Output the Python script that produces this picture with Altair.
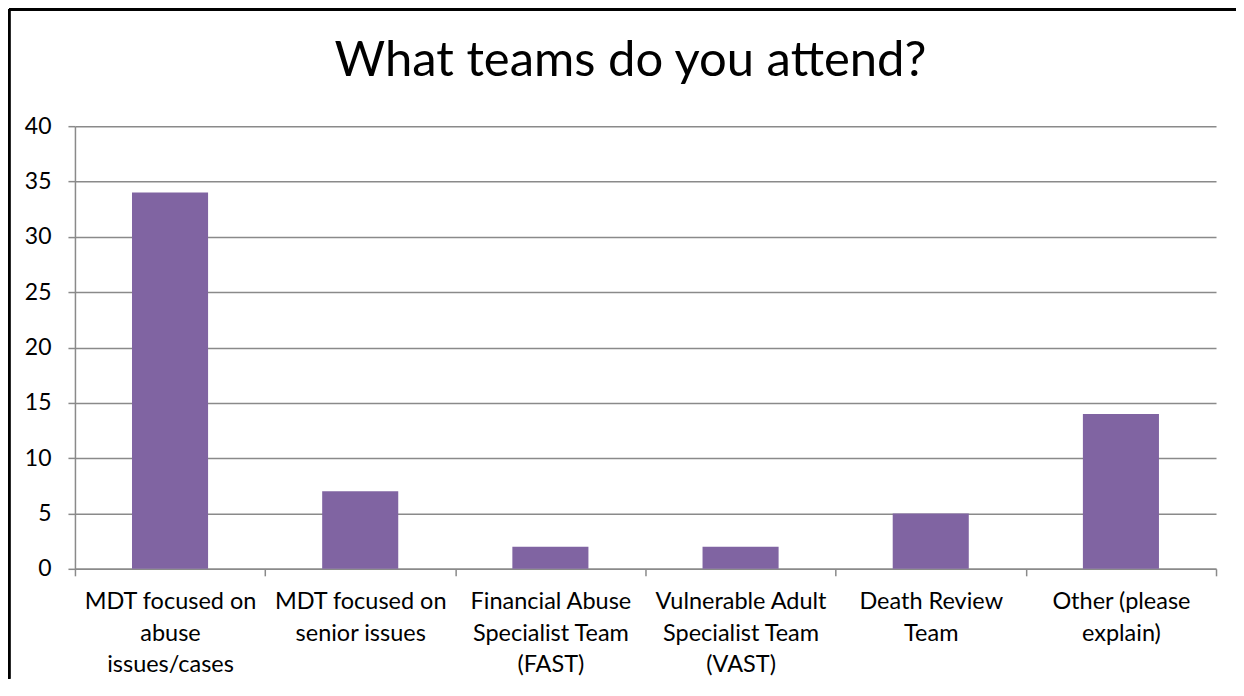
import altair as alt
import pandas as pd

categories = [
    "MDT focused on\nabuse\nissues/cases",
    "MDT  focused on\nsenior issues",
    "Financial Abuse\nSpecialist Team\n(FAST)",
    "Vulnerable Adult\nSpecialist Team\n(VAST)",
    "Death Review\nTeam",
    "Other (please\nexplain)",
]
counts = [34, 7, 2, 2, 5, 14]
y_ticks = [0, 5, 10, 15, 20, 25, 30, 35, 40]
title_text = "What teams do you attend?"

df = pd.DataFrame({"team": categories, "count": counts})

W, H = 1142, 443
PL, PT, PR, PB = 67, 118, 20, 110
FONT = "Lato"
GRID = "#8a8a8a"

bars = alt.Chart(df).mark_bar(color="#8064A2", width=alt.RelativeBandSize(0.4)).encode(
    x=alt.X(
        "team:N",
        sort=categories,
        scale=alt.Scale(paddingInner=0, paddingOuter=0),
        axis=alt.Axis(
            title=None,
            labelAngle=0,
            labelExpr="split(datum.label, '\\n')",
            labelFont=FONT,
            labelFontSize=23.5,
            labelLineHeight=31.5,
            labelLimit=400,
            labelColor="#000000",
            labelPadding=14,
            labelBaseline="top",
            tickBand="extent",
            tickSize=7,
            tickColor=GRID,
            tickWidth=1.5,
            domainColor=GRID,
            domainWidth=1.5,
            grid=False,
        ),
    ),
    y=alt.Y(
        "count:Q",
        scale=alt.Scale(domain=[0, 40], nice=False),
        axis=alt.Axis(
            title=None,
            values=y_ticks,
            labelFont=FONT,
            labelFontSize=23,
            labelColor="#000000",
            labelPadding=17,
            tickSize=7,
            tickColor=GRID,
            tickWidth=1.5,
            domainColor=GRID,
            domainWidth=1.5,
            grid=True,
            gridColor=GRID,
            gridWidth=1.5,
        ),
    ),
)

title = alt.Chart(pd.DataFrame({"t": [title_text]})).mark_text(
    font=FONT, fontSize=49, color="#000000", align="center", baseline="alphabetic"
).encode(x=alt.value(W / 2 - 15), y=alt.value(-50), text="t:N")

border_top = alt.Chart(df).mark_rule(color="#000000", strokeWidth=2.5).encode(
    x=alt.value(-PL + 1), x2=alt.value(W + PR), y=alt.value(-PT + 1)
)
border_left = alt.Chart(df).mark_rule(color="#000000", strokeWidth=2.5).encode(
    x=alt.value(-PL + 1), y=alt.value(-PT + 1), y2=alt.value(H + PB)
)

chart = alt.layer(bars, title, border_top, border_left).properties(
    width=W,
    height=H,
    autosize=alt.AutoSizeParams(type="none"),
    padding={"left": PL, "top": PT, "right": PR, "bottom": PB},
).configure_view(stroke=None)

chart.save("out.html", embed_options={"renderer": "svg", "actions": False})
